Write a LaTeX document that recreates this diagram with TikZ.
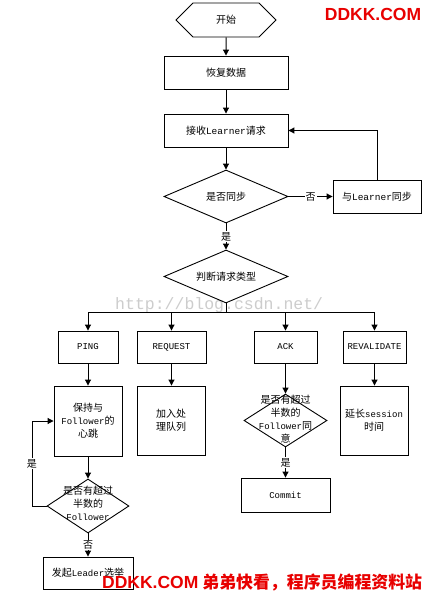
\documentclass[tikz,border=0pt]{standalone}
\usepackage{fontspec}
\setmainfont{Noto Sans CJK SC}
\newfontfamily\mymono{Liberation Mono}
\newfontfamily\mysans{Liberation Sans}
\usetikzlibrary{shapes.geometric,shapes.symbols,arrows.meta}
\newcommand\mytt[1]{{\mymono\fontsize{9}{13}\selectfont #1}}
\definecolor{wmred}{RGB}{232,0,0}
\definecolor{wmgray}{RGB}{205,205,205}
\begin{document}
\begin{tikzpicture}[x=1pt,y=-1pt,
  every node/.style={inner sep=0pt,font=\fontsize{10}{13}\selectfont},
  box/.style={draw,line width=0.9pt,align=center},
  dia/.style={draw,line width=0.9pt,diamond,aspect=2.3},
  arr/.style={draw,line width=1pt,-{Triangle[length=6pt,width=6pt]}},
  ln/.style={draw,line width=1pt},
  lab/.style={fill=white,inner sep=1pt,font=\fontsize{10}{12}\selectfont},
  txt/.style={align=center}]
\useasboundingbox (0,0) rectangle (425,594);
\fill[white] (0,0) rectangle (425,594);
% watermark behind
\node[text=wmgray,font=\mymono\fontsize{16.5}{18}\selectfont,anchor=west] (blog) at (115,305) {http://blog.csdn.net/};

\node[draw,line width=0.9pt,signal,signal to=east and west,signal pointer angle=90,minimum width=100,minimum height=34] (start) at (226,20) {开始};
\node[box,minimum width=124,minimum height=33] (recover) at (226,72.5) {恢复数据};
\node[box,minimum width=124,minimum height=33] (recv) at (226,130.5) {接收\mytt{\fontsize{9.5}{13}\selectfont Learner}请求};
\node[dia,minimum width=124,minimum height=53] (sync) at (226,196.5) {};
\node[txt] (synct) at (sync) {是否同步};
\node[box,minimum width=88,minimum height=33] (dosync) at (377,196.5) {与\mytt{\fontsize{9.5}{13}\selectfont Learner}同步};
\node[dia,minimum width=124,minimum height=53] (type) at (226,276.5) {};
\node[txt] (typet) at (type) {判断请求类型};

\node[box,minimum width=60,minimum height=32] (ping) at (88,347) {\mytt{PING}};
\node[box,minimum width=69,minimum height=32] (req) at (171.5,347) {\mytt{REQUEST}};
\node[box,minimum width=63,minimum height=32] (ack) at (285.5,347) {\mytt{ACK}};
\node[box,minimum width=63,minimum height=32] (reval) at (374.5,347) {\mytt{REVALIDATE}};

\node[box,minimum width=68,minimum height=70] (keep) at (88,421) {保持与\\\mytt{Follower}的\\心跳};
\node[box,minimum width=68,minimum height=69] (queue) at (171,420.5) {加入处\\理队列};
\node[dia,minimum width=83,minimum height=53] (agree) at (285.5,420.5) {};
\node[txt] (agreet) at (285.5,419.5) {是否有超过\\半数的\\\mytt{Follower}同\\意};
\node[box,minimum width=68,minimum height=69] (extend) at (374,420.5) {延长\mytt{session}\\时间};

\node[dia,minimum width=82,minimum height=54] (half) at (88,506) {};
\node[txt] (halft) at (88,503.5) {是否有超过\\半数的\\\mytt{Follower}};
\node[box,minimum width=89,minimum height=34] (commit) at (285.5,495) {\mytt{Commit}};
\node[box,minimum width=90,minimum height=32] (elect) at (88,573) {发起\mytt{Leader}选举};

% connectors
\draw[arr] (start) -- (recover);
\draw[arr] (recover) -- (recv);
\draw[arr] (recv) -- (sync);
\draw[arr] (sync.east) -- node[lab] (no1) {否} (dosync.west);
\draw[arr] (dosync.north) |- (recv.east);
\draw[arr] (sync.south) -- node[lab] (yes1) {是} (type.north);
\coordinate (bus) at (226,312);
\draw[ln] (type.south) -- (bus);
\draw[ln] (ping.north |- bus) -- (reval.north |- bus);
\draw[arr] (ping.north |- bus) -- (ping.north);
\draw[arr] (req.north |- bus) -- (req.north);
\draw[arr] (ack.north |- bus) -- (ack.north);
\draw[arr] (reval.north |- bus) -- (reval.north);
\draw[arr] (ping) -- (keep);
\draw[arr] (req.south) -- (req.south |- queue.north);
\draw[arr] (ack.south) -- (agree.north);
\draw[arr] (reval.south) -- (reval.south |- extend.north);
\draw[arr] (keep) -- (half);
\coordinate (loopc) at (32,421);
\draw[arr] (half.west) -| node[lab,pos=0.75] (yes2) {是} (loopc) -- (keep.west);
\draw[arr] (half.south) -- node[lab] (no2) {否} (elect.north);
\draw[arr] (agree.south) -- node[lab] (yes3) {是} (commit.north);

% watermarks
\node[text=wmred,font=\mysans\bfseries\fontsize{17.5}{20}\selectfont] (wm1) at (373,14) {DDKK.COM};
\node[text=wmred,anchor=west] (wm2) at (102,582) {{\mysans\bfseries\fontsize{17.5}{20}\selectfont DDKK.COM}\hspace{4pt}{\bfseries\fontsize{16.9}{20}\selectfont 弟弟快看，程序员编程资料站}};
\end{tikzpicture}
\end{document}
